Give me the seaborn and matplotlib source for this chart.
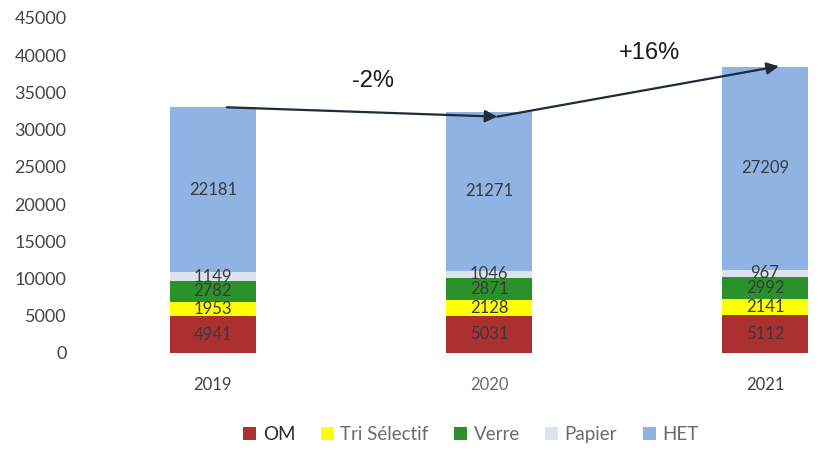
import numpy as np
import pandas as pd
import matplotlib
matplotlib.use("Agg")
import matplotlib.pyplot as plt
import seaborn as sns

# Tonnages par flux et par année
years = ["2019", "2020", "2021"]
series_names = ["OM", "Tri Sélectif", "Verre", "Papier", "HET"]
om = [4941, 5031, 5112]
tri_selectif = [1953, 2128, 2141]
verre = [2782, 2871, 2992]
papier = [1149, 1046, 967]
het = [22181, 21271, 27209]
change_labels = ["-2%", "+16%"]

colors = {
    "OM": "#ab3030",
    "Tri Sélectif": "#ffff00",
    "Verre": "#2b922b",
    "Papier": "#dde3ec",
    "HET": "#8fb4e3",
}

sns.set_theme(style="white")
plt.rcParams["font.family"] = ["Lato", "DejaVu Sans"]

df = pd.DataFrame({"Année": years, "OM": om, "Tri Sélectif": tri_selectif,
                   "Verre": verre, "Papier": papier, "HET": het})
cum = df[series_names].cumsum(axis=1)

fig = plt.figure(figsize=(8.23, 4.5), dpi=100)
ax = fig.add_axes([0.091, 0.2156, 0.909, 0.7444])

# Stacked bars: draw cumulative heights from the top layer down
for name in reversed(series_names):
    sns.barplot(x=df["Année"], y=cum[name], order=years, color=colors[name],
                width=0.31, saturation=1, ax=ax, linewidth=0, label=name)

# Segment value labels
for i in range(len(years)):
    bottom = 0
    for name in series_names:
        v = df.loc[i, name]
        ax.text(i, bottom + v / 2, f"{v}", ha="center", va="center",
                fontsize=12, color="#3a3a3a", family=["Lato", "DejaVu Sans"])
        bottom += v

ax.set_ylim(0, 45000)
ax.set_yticks(np.arange(0, 45001, 5000))
ax.set_xlim(-0.5, 2.21)
ax.set_xlabel("")
ax.set_ylabel("")
ax.tick_params(axis="y", labelsize=13, labelcolor="#454545", length=0, pad=6)
ax.tick_params(axis="x", labelsize=12, labelcolor="#404040", length=0, pad=17)
ax.get_xticklabels()[1].set_color("#6a6a6a")
for s in ax.spines.values():
    s.set_visible(False)
ax.grid(False)

# Evolution arrows between yearly totals
totals = cum["HET"].values
arrow_pts = [(0.05, totals[0]), (1.03, totals[1] - 600), (2.05, totals[2] + 100)]
for k in range(2):
    ax.annotate("", xy=arrow_pts[k + 1], xytext=arrow_pts[k],
                arrowprops=dict(arrowstyle="-|>", color="#1f2a3a", lw=1.6,
                                mutation_scale=18, shrinkA=0, shrinkB=0))
ax.text(0.58, 36500, change_labels[0], ha="center", va="center", fontsize=17,
        color="#1a1a1a", family=["Liberation Sans", "DejaVu Sans"])
ax.text(1.58, 40300, change_labels[1], ha="center", va="center", fontsize=17,
        color="#1a1a1a", family=["Liberation Sans", "DejaVu Sans"])

# Legend in series order
handles, labels = ax.get_legend_handles_labels()
order = [labels.index(n) for n in series_names]
leg = fig.legend([handles[j] for j in order], series_names, loc="center",
                 bbox_to_anchor=(0.572, 0.034), ncol=5, frameon=False,
                 fontsize=13.5, handlelength=0.7, handleheight=0.7,
                 handletextpad=0.35, columnspacing=1.35)
for t in leg.get_texts():
    t.set_color("#6a6a6a")
leg.get_texts()[0].set_color("#2a2a2a")
if ax.get_legend() is not None:
    ax.get_legend().remove()

fig.savefig("out.png", dpi=100)
